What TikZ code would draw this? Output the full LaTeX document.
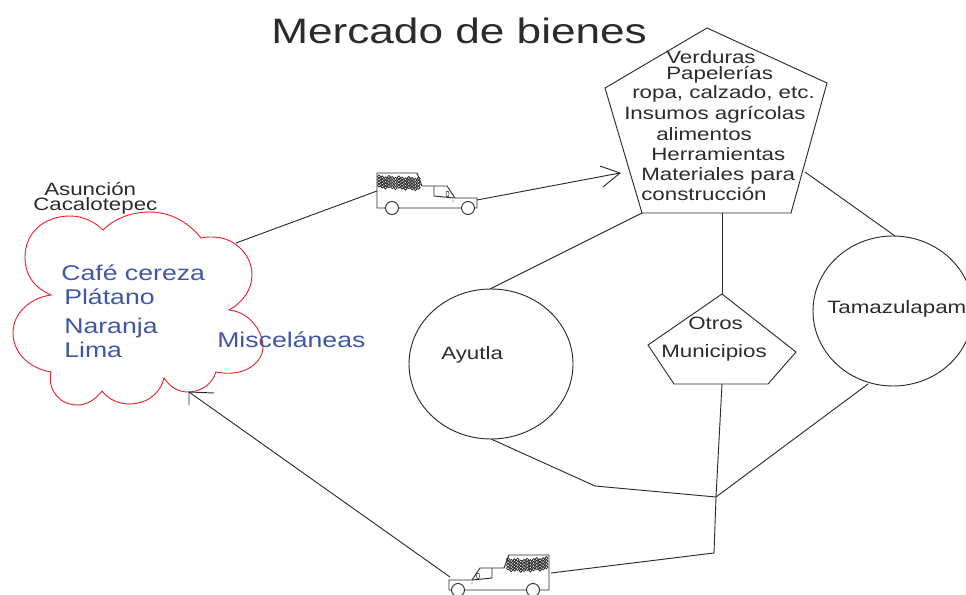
\documentclass[tikz,border=0pt]{standalone}
\usepackage{fontspec}
\usetikzlibrary{shapes.geometric}
\setmainfont[FakeStretch=1.25]{Liberation Sans}
\definecolor{inkc}{HTML}{2B2B2B}
\definecolor{bluet}{HTML}{3F57A6}
\definecolor{cloudr}{HTML}{E8262D}
\tikzset{
  lbl/.style={anchor=base west,inner sep=0pt,font=\fontsize{13.4}{15}\selectfont,text=inkc},
  bluelbl/.style={anchor=base west,inner sep=0pt,font=\fontsize{16}{18}\selectfont,text=bluet},
  edge/.style={draw=inkc,line width=0.7pt},
  town/.style={ellipse,draw=inkc,line width=0.7pt,inner sep=0pt},
  wheel/.style={draw=inkc,line width=0.7pt,fill=white},
  stones/.style={draw=inkc,line width=0.6pt}
}
\begin{document}
\begin{tikzpicture}[x=0.75pt,y=-0.75pt]
\useasboundingbox (0,0) rectangle (966,595);
\begin{scope}
\clip (0,0) rectangle (966,595);
% title
\node[anchor=base west,inner sep=0pt,font=\fontsize{26.5}{30}\selectfont,text=inkc] (title) at (271,44) {Mercado de bienes};
% connector anchor points
\coordinate (pTop) at (707,28);
\coordinate (pRight) at (827,83);
\coordinate (pBR) at (791,213);
\coordinate (pBL) at (642,213);
\coordinate (pLeft) at (605,88);
\coordinate (pBottomMid) at (722,213);
\coordinate (pSide) at (805,172);
\coordinate (arrowIn) at (620,173);
\coordinate (oTop) at (722,294);
\coordinate (oRight) at (796,352);
\coordinate (oBR) at (768,384);
\coordinate (oBL) at (674,384);
\coordinate (oLeft) at (648,345);
\coordinate (oBottom) at (722,384);
\coordinate (cloudOut) at (236,243);
\coordinate (cloudIn) at (189,392);
\coordinate (truckAL) at (377,191);
\coordinate (truckAR) at (477,200);
\coordinate (truckBL) at (450,577);
\coordinate (truckBR) at (551,573);
\coordinate (elbowA) at (595,486);
\coordinate (hub) at (716,497);
\coordinate (elbowB) at (714,553);
\coordinate (ayIn) at (490,289);
\coordinate (ayOut) at (491,439);
\coordinate (taIn) at (895,236);
\coordinate (taOut) at (868,384);
% shapes
\node[town,minimum width=123pt,minimum height=112.5pt] (ayutla) at (491,364) {};
\node[town,minimum width=120pt,minimum height=112.5pt] (tamaz) at (893,311) {};
\draw[edge] (pTop) -- (pRight) -- (pBR) -- (pBL) -- (pLeft) -- cycle;
\draw[edge] (oTop) -- (oRight) -- (oBR) -- (oBL) -- (oLeft) -- cycle;
% cloud
\draw[draw=cloudr,line width=0.7pt]
 (51,295) .. controls (28,285) and (25,268) .. (25,257)
 .. controls (25,232) and (45,216) .. (70,216)
 .. controls (83,216) and (95,222) .. (103,230)
 .. controls (115,218) and (132,212) .. (150,212)
 .. controls (172,212) and (190,224) .. (201,238)
 .. controls (205,237) and (208,237) .. (212,237)
 .. controls (235,237) and (252,255) .. (252,275)
 .. controls (252,290) and (242,303) .. (229,310)
 .. controls (250,312) and (263,332) .. (263,347)
 .. controls (263,362) and (245,378) .. (216,372)
 .. controls (212,385) and (200,392) .. (188,392)
 .. controls (178,392) and (170,387) .. (164,378)
 .. controls (160,395) and (145,404) .. (130,404)
 .. controls (118,404) and (108,399) .. (102,391)
 .. controls (95,400) and (87,405) .. (77,405)
 .. controls (60,405) and (47,390) .. (51,372)
 .. controls (28,368) and (13,352) .. (13,333)
 .. controls (13,313) and (30,298) .. (51,295) -- cycle;
% connectors
\draw[edge] (cloudOut) -- (truckAL);
\draw[edge] (truckAR) -- (arrowIn);
\draw[edge] (600,166) -- (arrowIn) -- (603,187);
\draw[edge] (pBL) -- (ayIn);
\draw[edge] (pBottomMid) -- (oTop);
\draw[edge] (pSide) -- (taIn);
\draw[edge] (ayOut) -- (elbowA) -- (hub);
\draw[edge] (taOut) -- (hub);
\draw[edge] (oBottom) -- (hub) -- (elbowB) -- (truckBR);
\draw[edge] (truckBL) -- (cloudIn);
\draw[edge] (214,393) -- (cloudIn) -- (189,405);
% truck A
\draw[edge] (377,173) -- (417,173) -- (422,186) -- (447,186) -- (455,198) -- (477,198) -- (477,208) -- (377,208) -- cycle;
\draw[edge] (434,186) -- (434,196) -- (454,198);
\draw[edge,line width=0.4pt] (447.5,194) ellipse [x radius=1.5,y radius=3];
\fill[inkc] (453,201) circle (0.6);
\foreach \i in {0,...,12}{
  \pgfmathsetmacro{\xa}{379+\i*3.3}
  \foreach \j in {0,1,2,3}{
    \pgfmathsetmacro{\ya}{176.5+\j*3+mod(\i*7,3)*0.8+\i*0.18}
    \draw[stones] (\xa,\ya) circle (1.6);
  }
}
\draw[wheel] (392,208) circle (6.5);
\draw[wheel] (468,208) circle (6.5);
% truck B
\draw[edge] (549,555) -- (509,555) -- (504,568) -- (480,568) -- (472,580) -- (449,580) -- (449,590) -- (549,590) -- cycle;
\draw[edge] (492,568) -- (492,578) -- (472,580);
\draw[edge,line width=0.4pt] (478,576) ellipse [x radius=1.5,y radius=3];
\fill[inkc] (472,583) circle (0.6);
\foreach \i in {0,...,12}{
  \pgfmathsetmacro{\xa}{508+\i*3.2}
  \foreach \j in {0,1,2,3}{
    \pgfmathsetmacro{\ya}{559+\j*3+mod(\i*5,3)*0.8+(6-abs(\i-5))*0.25-\i*0.05}
    \draw[stones] (\xa,\ya) circle (1.6);
  }
}
\draw[wheel] (458,590) circle (6.5);
\draw[wheel] (533,590) circle (6.5);
% labels
\node[lbl] (asun) at (44,196) {Asunción};
\node[lbl] (caca) at (33,210) {Cacalotepec};
\node[bluelbl] (cafe) at (61,280) {Café cereza};
\node[bluelbl] (plat) at (64,304) {Plátano};
\node[bluelbl] (nara) at (64,333) {Naranja};
\node[bluelbl] (lima) at (64,357) {Lima};
\node[bluelbl] (misc) at (217,347) {Misceláneas};
\node[lbl] (verd) at (666,64) {Verduras};
\node[lbl] (pape) at (666,80) {Papelerías};
\node[lbl] (ropa) at (632,99) {ropa, calzado, etc.};
\node[lbl] (insu) at (624,120) {Insumos agrícolas};
\node[lbl] (alim) at (656,141) {alimentos};
\node[lbl] (herr) at (651,161) {Herramientas};
\node[lbl] (mate) at (641,181) {Materiales para};
\node[lbl] (cons) at (641,200) {construcción};
\node[lbl] (ayt) at (441,359) {Ayutla};
\node[lbl] (otro) at (688,329) {Otros};
\node[lbl] (muni) at (661,357) {Municipios};
\node[lbl] (tama) at (827,313) {Tamazulapam};
\end{scope}
\end{tikzpicture}
\end{document}
